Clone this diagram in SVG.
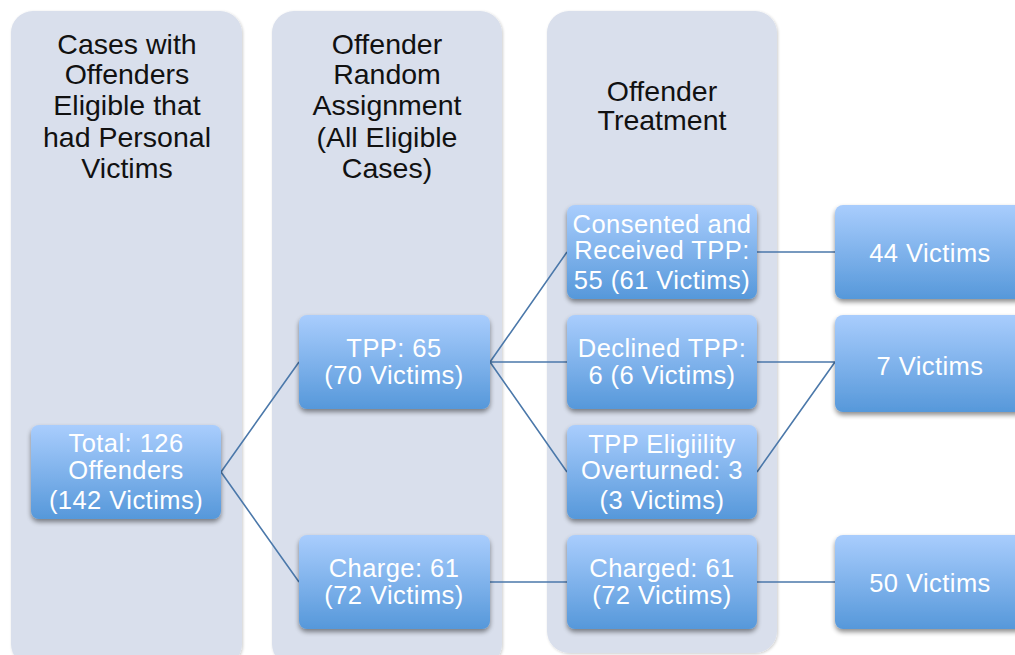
<svg xmlns="http://www.w3.org/2000/svg" width="1015" height="655" viewBox="0 0 1015 655">
<defs>
<linearGradient id="g" x1="0" y1="0" x2="0" y2="1">
<stop offset="0" stop-color="#a9cdfd"/>
<stop offset="1" stop-color="#5698da"/>
</linearGradient>
<filter id="sh" x="-10%" y="-10%" width="120%" height="130%">
<feGaussianBlur in="SourceAlpha" stdDeviation="2.5"/>
<feOffset dy="3" result="b"/>
<feComponentTransfer><feFuncA type="linear" slope="0.45"/></feComponentTransfer>
<feMerge><feMergeNode/><feMergeNode in="SourceGraphic"/></feMerge>
</filter>
<filter id="psh" x="-5%" y="-5%" width="110%" height="110%">
<feGaussianBlur in="SourceAlpha" stdDeviation="1.5"/>
<feOffset dx="1" dy="1"/>
<feComponentTransfer><feFuncA type="linear" slope="0.2"/></feComponentTransfer>
<feMerge><feMergeNode/><feMergeNode in="SourceGraphic"/></feMerge>
</filter>
</defs>
<style>
.panel{fill:#d9dfec;filter:url(#psh)}
.box{fill:url(#g);filter:url(#sh)}
.h{font-family:"Liberation Sans",Arial,sans-serif;font-size:28.5px;fill:#111;text-anchor:middle}
.t{font-family:"Liberation Sans",Arial,sans-serif;font-size:25.5px;letter-spacing:0.45px;fill:#fff;text-anchor:middle}
.c{stroke:#4b78aa;stroke-width:1.6;fill:none}
</style>
<rect width="1015" height="655" fill="#fff"/>
<g id="panels">
<rect class="panel" x="11" y="11" width="231" height="655" rx="22"/>
<rect class="panel" x="272" y="11" width="230" height="655" rx="22"/>
<rect class="panel" x="547" y="11" width="230" height="642" rx="22"/>
</g>
<g id="headers">
<text class="h"><tspan x="127" y="54">Cases with</tspan><tspan x="127" y="84">Offenders</tspan><tspan x="127" y="115">Eligible that</tspan><tspan x="127" y="147">had Personal</tspan><tspan x="127" y="178">Victims</tspan></text>
<text class="h"><tspan x="387" y="54">Offender</tspan><tspan x="387" y="84">Random</tspan><tspan x="387" y="115">Assignment</tspan><tspan x="387" y="147">(All Eligible</tspan><tspan x="387" y="178">Cases)</tspan></text>
<text class="h"><tspan x="662" y="101">Offender</tspan><tspan x="662" y="130">Treatment</tspan></text>
</g>
<g id="connectors">
<path class="c" d="M221 472 L299 362 M221 472 L299 582 M490 362 L567 252 M490 362 L567 362 M490 362 L567 472 M490 582 L567 582 M757 252 L835 252 M757 362 L835 362 M757 472 L835 362 M757 582 L835 582"/>
</g>
<g id="total"><rect class="box" x="31" y="425" width="190" height="94" rx="8"/>
<text class="t"><tspan x="126" y="452">Total: 126</tspan><tspan x="126" y="479">Offenders</tspan><tspan x="126" y="509">(142 Victims)</tspan></text></g>
<g id="tpp"><rect class="box" x="299" y="315" width="191" height="94" rx="8"/>
<text class="t"><tspan x="394" y="357">TPP: 65</tspan><tspan x="394" y="384">(70 Victims)</tspan></text></g>
<g id="charge"><rect class="box" x="299" y="535" width="191" height="94" rx="8"/>
<text class="t"><tspan x="394" y="577">Charge: 61</tspan><tspan x="394" y="604">(72 Victims)</tspan></text></g>
<g id="consented"><rect class="box" x="567" y="205" width="190" height="94" rx="8"/>
<text class="t"><tspan x="662" y="233">Consented and</tspan><tspan x="662" y="259">Received TPP:</tspan><tspan x="662" y="289">55 (61 Victims)</tspan></text></g>
<g id="declined"><rect class="box" x="567" y="315" width="190" height="94" rx="8"/>
<text class="t"><tspan x="662" y="357">Declined TPP:</tspan><tspan x="662" y="384">6 (6 Victims)</tspan></text></g>
<g id="overturned"><rect class="box" x="567" y="425" width="190" height="94" rx="8"/>
<text class="t"><tspan x="662" y="453">TPP Eligiility</tspan><tspan x="662" y="479">Overturned: 3</tspan><tspan x="662" y="509">(3 Victims)</tspan></text></g>
<g id="charged"><rect class="box" x="567" y="535" width="190" height="94" rx="8"/>
<text class="t"><tspan x="662" y="577">Charged: 61</tspan><tspan x="662" y="604">(72 Victims)</tspan></text></g>
<g id="v44"><rect class="box" x="835" y="205" width="192" height="94" rx="8"/>
<text class="t" x="930" y="262">44 Victims</text></g>
<g id="v7"><rect class="box" x="835" y="315" width="192" height="97" rx="8"/>
<text class="t" x="930" y="375">7 Victims</text></g>
<g id="v50"><rect class="box" x="835" y="535" width="192" height="94" rx="8"/>
<text class="t" x="930" y="592">50 Victims</text></g>
</svg>
